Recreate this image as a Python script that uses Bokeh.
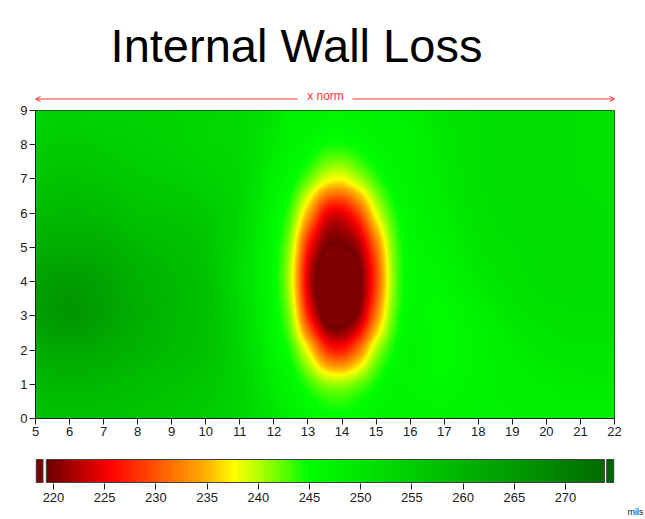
import numpy as np
from bokeh.plotting import figure
from bokeh.layouts import column
from bokeh.models import (LinearColorMapper, FixedTicker, Label, Arrow, OpenHead, Title, Range1d)
from bokeh.embed import file_html
from bokeh.resources import INLINE

# ---------------- data (wall thickness, mils) ----------------
x_nodes = [5, 6, 7, 8, 9, 10, 11, 12, 12.5, 13, 13.5, 14, 14.5, 15, 15.5, 16, 17, 18, 19, 20, 21, 22]
y_nodes = [0, 1, 2, 3, 4, 5, 6, 7, 8, 9]

row_y0 = [257, 257, 257, 256.5, 256, 255, 253.5, 250, 248, 246.5, 245.7, 245.5, 246.1, 247, 247, 247, 247, 247.5, 247.5, 248, 248, 248]
row_y1 = [259, 259.5, 259, 258, 257, 256, 253.5, 248.5, 246.1, 243.5, 241.1, 240.6, 242.1, 244.4, 246.5, 246.5, 246, 247, 248, 248.5, 249, 249]
row_y2 = [261.5, 262.5, 261.5, 260, 258.5, 257, 253, 246.5, 243.5, 237.0, 228.6, 226.5, 231.5, 239.7, 244.3, 246.6, 245.5, 247, 248.5, 249.5, 250, 250]
row_y3 = [264, 265.5, 263.5, 261, 259, 257.5, 252.5, 245.6, 240.6, 227.2, 218.5, 217.5, 221.0, 232.0, 242.0, 245.8, 245.5, 247.5, 249.5, 250.5, 251, 251]
row_y4 = [263.5, 264.5, 263, 260.5, 259, 257, 251.5, 245.2, 238.7, 223.5, 216.9, 216.4, 218.9, 228.6, 240.8, 245.4, 246.5, 249, 250.5, 251.5, 251.5, 251]
row_y5 = [261, 261.5, 261, 259, 258, 256.5, 252, 245.4, 240.0, 226.5, 219.8, 219.3, 221.5, 231.0, 241.5, 245.6, 247.5, 250, 251, 251.5, 251.5, 251]
row_y6 = [258.5, 259, 258.5, 257, 256.5, 255.5, 252.5, 246.2, 242.7, 234.5, 225.8, 224.5, 229.2, 238.0, 243.6, 246.4, 248.5, 250.5, 251.5, 251.5, 251.5, 251]
row_y7 = [256.5, 257, 256.5, 255.5, 255, 254, 252.5, 247.5, 245.3, 242.2, 238.4, 237.4, 240.1, 243.3, 245.9, 247, 249, 251, 251.5, 251.5, 251, 250.5]
row_y8 = [255, 255.5, 255, 254.5, 254, 253, 252.5, 249, 247, 245.9, 244.6, 244.4, 245.1, 246.4, 247, 247, 249.5, 251, 251.5, 251.5, 251, 250.5]
row_y9 = [254, 254, 254, 254, 253.5, 253, 252.5, 250, 247.5, 247.5, 247, 247, 247, 247.5, 247.5, 248, 250, 251, 251.5, 251.5, 251, 250.5]

x_ticks = list(range(5, 23))
y_ticks = list(range(0, 10))
bar_ticks = [220, 225, 230, 235, 240, 245, 250, 255, 260, 265, 270]
value_low, value_high = 219.3, 273.8

title_text = "Internal Wall Loss"
arrow_text = "x norm"
unit_text = "mils"

# colour stops of the legend bar
stop_values = [219.3, 220, 222.5, 225.5, 230, 235, 237.6, 240, 242.5, 244.8, 250, 255, 260, 265, 270, 273.8]
stop_colors = ["#6e0000", "#7e0000", "#b80000", "#ff0000", "#ff5500", "#ffb400", "#ffff00", "#b4ff00",
               "#5aff00", "#00ff00", "#00e600", "#00cd00", "#00b400", "#009a00", "#008000", "#006c00"]
low_color, high_color = "#7f0000", "#006400"

FONT = "Liberation Sans"
RED = "#ff3333"

# ---------------- helpers ----------------
def hex_rgb(h):
    return np.array([int(h[i:i + 2], 16) for i in (1, 3, 5)], dtype=float)

def make_palette(n=512):
    vals = np.linspace(value_low, value_high, n)
    rgb = np.array([hex_rgb(c) for c in stop_colors])
    out = []
    for v in vals:
        r = np.interp(v, stop_values, rgb[:, 0])
        g = np.interp(v, stop_values, rgb[:, 1])
        b = np.interp(v, stop_values, rgb[:, 2])
        out.append("#%02x%02x%02x" % (int(round(r)), int(round(g)), int(round(b))))
    return out

def hermite(xk, yk, xq):
    xk = np.asarray(xk, float); yk = np.asarray(yk, float)
    n = len(xk)
    m = np.empty(n)
    m[1:-1] = (yk[2:] - yk[:-2]) / (xk[2:] - xk[:-2])
    m[0] = (yk[1] - yk[0]) / (xk[1] - xk[0])
    m[-1] = (yk[-1] - yk[-2]) / (xk[-1] - xk[-2])
    idx = np.clip(np.searchsorted(xk, xq) - 1, 0, n - 2)
    h = xk[idx + 1] - xk[idx]
    t = (xq - xk[idx]) / h
    h00 = 2 * t**3 - 3 * t**2 + 1
    h10 = t**3 - 2 * t**2 + t
    h01 = -2 * t**3 + 3 * t**2
    h11 = t**3 - t**2
    return h00 * yk[idx] + h10 * h * m[idx] + h01 * yk[idx + 1] + h11 * h * m[idx + 1]

grid = np.array([row_y0, row_y1, row_y2, row_y3, row_y4, row_y5, row_y6, row_y7, row_y8, row_y9])

nx, ny = 580, 310
xf = np.linspace(x_nodes[0], x_nodes[-1], nx)
yf = np.linspace(y_nodes[0], y_nodes[-1], ny)
tmp = np.array([hermite(x_nodes, grid[j], xf) for j in range(len(y_nodes))])
Z = np.array([hermite(y_nodes, tmp[:, i], yf) for i in range(nx)]).T

mapper = LinearColorMapper(palette=make_palette(), low=value_low, high=value_high,
                           low_color=low_color, high_color=high_color)

LEFT, RIGHT = 35, 31   # identical frame borders for all stacked figures

# ---------------- header (title + x norm arrow) ----------------
ppx = (645 - LEFT - RIGHT) / 17.0          # pixels per x unit of the map
HDR_H = 103
hdr = figure(width=645, height=HDR_H, x_range=(5, 22), y_range=Range1d(HDR_H, 0),
             output_backend="svg", toolbar_location=None, x_axis_location=None, y_axis_location=None,
             min_border_left=LEFT, min_border_right=RIGHT, min_border_top=0, min_border_bottom=0)
hdr.outline_line_color = None
hdr.grid.visible = False
hdr.add_layout(Label(x=5 + (296 - LEFT) / ppx, y=45, text=title_text, text_font=FONT, text_font_size="47px",
                     text_align="center", text_baseline="alphabetic", text_color="black"))
arrow_y = 98.5
hdr.add_layout(Arrow(end=OpenHead(size=5, line_color=RED, line_width=1),
                     x_start=5 + (297 - LEFT) / ppx, y_start=arrow_y, x_end=x_ticks[0], y_end=arrow_y,
                     line_color=RED, line_width=1))
hdr.add_layout(Arrow(end=OpenHead(size=5, line_color=RED, line_width=1),
                     x_start=5 + (352 - LEFT) / ppx, y_start=arrow_y, x_end=x_ticks[-1], y_end=arrow_y,
                     line_color=RED, line_width=1))
hdr.add_layout(Label(x=5 + (325 - LEFT) / ppx, y=102.5, text=arrow_text, text_font=FONT, text_font_size="12px",
                     text_align="center", text_baseline="bottom", text_color=RED))

# ---------------- main map ----------------
p = figure(width=645, height=450 - HDR_H, x_range=(5, 22), y_range=(0, 9),
           output_backend="svg", toolbar_location=None,
           min_border_left=LEFT, min_border_right=RIGHT, min_border_top=110 - HDR_H, min_border_bottom=32)
p.image(image=[Z], x=x_nodes[0], y=y_nodes[0], dw=x_nodes[-1] - x_nodes[0], dh=y_nodes[-1] - y_nodes[0],
        color_mapper=mapper)

p.grid.visible = False
p.outline_line_color = "#303030"
p.outline_line_width = 1
for ax, ticks in ((p.xaxis[0], x_ticks), (p.yaxis[0], y_ticks)):
    ax.ticker = FixedTicker(ticks=ticks)
    ax.minor_tick_line_color = None
    ax.major_tick_in = 0
    ax.major_tick_out = 6
    ax.major_tick_line_color = "#202020"
    ax.axis_line_color = "#202020"
    ax.major_label_text_font = FONT
    ax.major_label_text_font_size = "13px"
    ax.major_label_text_color = "#202020"
    ax.major_label_standoff = 2

# ---------------- legend bar ----------------
px_per = 10.24
b_start = 220 - (53 - LEFT) / px_per
b_end = 270 + (645 - RIGHT - 565) / px_per
q = figure(width=645, height=69, x_range=(b_start, b_end), y_range=(-1 / 23, 1 + 1 / 23),
           output_backend="svg", toolbar_location=None,
           min_border_left=LEFT, min_border_right=RIGHT, min_border_top=8, min_border_bottom=36)
q.outline_line_color = None
q.grid.visible = False
q.yaxis.visible = False
bar_vals = np.linspace(value_low, value_high, 600)[None, :]
q.image(image=[bar_vals], x=value_low, y=0, dw=value_high - value_low, dh=1, color_mapper=mapper)
q.quad(left=value_low, right=value_high, bottom=0, top=1, fill_color=None,
       line_color="#404040", line_width=1)

# out-of-range swatches (below / above the scale)
lb = (b_start + 0.6 / px_per, b_start + 7.5 / px_per)
rb = (b_end - 7.8 / px_per, b_end - 0.6 / px_per)
q.image(image=[np.array([[value_low - 5.0]])], x=lb[0], y=0, dw=lb[1] - lb[0], dh=1, color_mapper=mapper)
q.image(image=[np.array([[value_high + 5.0]])], x=rb[0], y=0, dw=rb[1] - rb[0], dh=1, color_mapper=mapper)
q.quad(left=[lb[0], rb[0]], right=[lb[1], rb[1]], bottom=[0, 0], top=[1, 1],
       fill_color=None, line_color="#404040", line_width=1)

xa = q.xaxis[0]
xa.ticker = FixedTicker(ticks=bar_ticks)
xa.minor_tick_line_color = None
xa.axis_line_color = None
xa.major_tick_in = 0
xa.major_tick_out = 6
xa.major_tick_line_color = "#202020"
xa.major_label_text_font = FONT
xa.major_label_text_font_size = "13px"
xa.major_label_text_color = "#202020"
xa.major_label_standoff = 3

q.add_layout(Title(text=unit_text, align="left", offset=627 - LEFT, text_font=FONT, text_font_size="9px",
                   text_font_style="normal", text_color="#202020", standoff=0), "below")

layout = column(hdr, p, q, spacing=0)
open("out.html", "w").write(file_html(layout, INLINE))
